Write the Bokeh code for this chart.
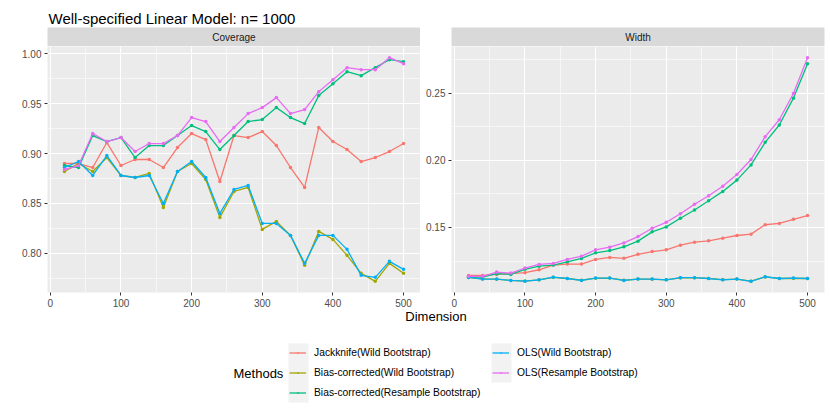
from bokeh.plotting import figure
from bokeh.layouts import column, row
from bokeh.models import (Range1d, SingleIntervalTicker, NumeralTickFormatter, Label,
                          Legend, LegendItem, ColumnDataSource, BoxAnnotation)
from bokeh.embed import file_html
from bokeh.resources import INLINE

# ---------------- data ----------------
dims = [20, 40, 60, 80, 100, 120, 140, 160, 180, 200, 220, 240, 260,
        280, 300, 320, 340, 360, 380, 400, 420, 440, 460, 480, 500]

methods = ["Jackknife(Wild Bootstrap)", "Bias-corrected(Wild Bootstrap)",
           "Bias-corrected(Resample Bootstrap)", "OLS(Wild Bootstrap)",
           "OLS(Resample Bootstrap)"]
colors = ["#F8766D", "#A3A500", "#00BF7D", "#00B0F6", "#E76BF3"]

coverage_jack = [0.890, 0.890, 0.886, 0.911, 0.888, 0.894, 0.894, 0.886, 0.906, 0.920, 0.914, 0.872, 0.918,
                 0.916, 0.922, 0.908, 0.886, 0.866, 0.926, 0.912, 0.904, 0.892, 0.896, 0.902, 0.910]
coverage_bcw = [0.882, 0.890, 0.882, 0.896, 0.878, 0.876, 0.880, 0.846, 0.882, 0.890, 0.874, 0.836, 0.862,
                0.866, 0.824, 0.832, 0.818, 0.788, 0.822, 0.814, 0.798, 0.780, 0.772, 0.790, 0.780]
coverage_bcr = [0.888, 0.886, 0.918, 0.912, 0.916, 0.896, 0.908, 0.908, 0.918, 0.928, 0.922, 0.904, 0.918,
                0.932, 0.934, 0.946, 0.936, 0.930, 0.958, 0.970, 0.982, 0.978, 0.986, 0.994, 0.992]
coverage_olsw = [0.886, 0.892, 0.878, 0.898, 0.878, 0.876, 0.878, 0.850, 0.882, 0.892, 0.876, 0.840, 0.864,
                 0.868, 0.830, 0.830, 0.818, 0.790, 0.818, 0.818, 0.804, 0.778, 0.776, 0.792, 0.784]
coverage_olsr = [0.884, 0.888, 0.920, 0.912, 0.916, 0.902, 0.910, 0.910, 0.918, 0.936, 0.932, 0.912, 0.926,
                 0.940, 0.946, 0.956, 0.940, 0.944, 0.962, 0.974, 0.986, 0.984, 0.984, 0.996, 0.990]

width_jack = [0.1143, 0.1143, 0.1150, 0.1156, 0.1163, 0.1185, 0.1220, 0.1227, 0.1227, 0.1262, 0.1277, 0.1270, 0.1300,
              0.1320, 0.1333, 0.1368, 0.1390, 0.1400, 0.1420, 0.1440, 0.1450, 0.1520, 0.1530, 0.1560, 0.1588]
width_bcw = [0.1128, 0.1117, 0.1115, 0.1106, 0.1101, 0.1110, 0.1129, 0.1120, 0.1107, 0.1122, 0.1123, 0.1107, 0.1116,
             0.1115, 0.1110, 0.1125, 0.1126, 0.1120, 0.1111, 0.1116, 0.1100, 0.1132, 0.1120, 0.1122, 0.1120]
width_bcr = [0.1131, 0.1131, 0.1156, 0.1150, 0.1188, 0.1212, 0.1220, 0.1244, 0.1269, 0.1311, 0.1328, 0.1356, 0.1398,
             0.1467, 0.1504, 0.1568, 0.1630, 0.1699, 0.1768, 0.1852, 0.1965, 0.2133, 0.2262, 0.2462, 0.2718]
width_olsw = [0.1128, 0.1116, 0.1116, 0.1106, 0.1100, 0.1110, 0.1130, 0.1120, 0.1106, 0.1123, 0.1123, 0.1106, 0.1116,
              0.1116, 0.1110, 0.1126, 0.1126, 0.1120, 0.1110, 0.1116, 0.1099, 0.1133, 0.1120, 0.1123, 0.1120]
width_olsr = [0.1136, 0.1136, 0.1168, 0.1160, 0.1198, 0.1225, 0.1232, 0.1262, 0.1286, 0.1333, 0.1353, 0.1385, 0.1432,
              0.1494, 0.1538, 0.1602, 0.1672, 0.1736, 0.1807, 0.1894, 0.2005, 0.2175, 0.2301, 0.2496, 0.2763]

coverage_series = [coverage_jack, coverage_bcw, coverage_bcr, coverage_olsw, coverage_olsr]
width_series = [width_jack, width_bcw, width_bcr, width_olsw, width_olsr]

title_text = "Well-specified Linear Model: n= 1000"
panel_titles = ["Coverage", "Width"]
x_label = "Dimension"
legend_title = "Methods"

# ---------------- styling ----------------
FONT = "Liberation Sans"
PANEL_BG = "#EBEBEB"
STRIP_BG = "#D9D9D9"
KEY_BG = "#F2F2F2"

LEFT_W, LEFT_B = 420, 47
RIGHT_W, RIGHT_B, RIGHT_R = 409, 31, 5
TOTAL_W = LEFT_W + RIGHT_W


def expand(vals, frac=0.05):
    lo, hi = min(vals), max(vals)
    d = (hi - lo) * frac
    return lo - d, hi + d


x_lo, x_hi = expand(dims)


def make_panel(series, width, border_left, border_right):
    allv = [v for s in series for v in s]
    y_lo, y_hi = expand(allv)
    p = figure(width=width, height=264, output_backend="svg", toolbar_location=None,
               x_range=Range1d(x_lo, x_hi), y_range=Range1d(y_lo, y_hi),
               min_border_left=border_left, min_border_right=border_right,
               min_border_top=0, min_border_bottom=18,
               background_fill_color=PANEL_BG, border_fill_color="white",
               outline_line_color=None)
    p.xaxis.ticker = SingleIntervalTicker(interval=100, num_minor_ticks=2)
    p.yaxis.ticker = SingleIntervalTicker(interval=0.05, num_minor_ticks=2)
    p.yaxis.formatter = NumeralTickFormatter(format="0.00")
    for ax in (p.xaxis, p.yaxis):
        ax.axis_line_color = None
        ax.major_tick_line_color = "#333333"
        ax.major_tick_line_width = 1
        ax.major_tick_out = 3
        ax.major_tick_in = 0
        ax.minor_tick_line_color = None
        ax.major_label_text_font = FONT
        ax.major_label_text_font_size = "10px"
        ax.major_label_text_color = "#4D4D4D"
        ax.major_label_standoff = 2
    for g in (p.xgrid, p.ygrid):
        g.grid_line_color = "white"
        g.grid_line_width = 1.1
        g.minor_grid_line_color = "white"
        g.minor_grid_line_width = 0.55
    for vals, col in zip(series, colors):
        src = ColumnDataSource(data=dict(x=dims, y=vals))
        p.line("x", "y", source=src, line_color=col, line_width=1.3)
        p.scatter("x", "y", source=src, marker="circle", size=3.5,
                  fill_color=col, line_color=col, line_width=0)
    return p


def make_strip(panel, width, border_left, border_right, text):
    s = figure(width=width, height=19, output_backend="svg", toolbar_location=None,
               x_range=panel.x_range, y_range=Range1d(0, 1),
               x_axis_location=None, y_axis_location=None,
               min_border_left=border_left, min_border_right=border_right,
               min_border_top=0, min_border_bottom=0,
               background_fill_color=STRIP_BG, border_fill_color="white",
               outline_line_color=None)
    s.xgrid.visible = False
    s.ygrid.visible = False
    s.add_layout(Label(x=(x_lo + x_hi) / 2, y=0.5, text=text, text_align="center",
                       text_baseline="middle", text_font=FONT, text_font_size="10px",
                       text_color="#1A1A1A"))
    return s


p_cov = make_panel(coverage_series, LEFT_W, LEFT_B, 0)
p_wid = make_panel(width_series, RIGHT_W, RIGHT_B, RIGHT_R)
s_cov = make_strip(p_cov, LEFT_W, LEFT_B, 0, panel_titles[0])
s_wid = make_strip(p_wid, RIGHT_W, RIGHT_B, RIGHT_R, panel_titles[1])


def blank(height):
    b = figure(width=TOTAL_W, height=height, output_backend="svg", toolbar_location=None,
               x_range=Range1d(0, TOTAL_W), y_range=Range1d(0, height),
               x_axis_location=None, y_axis_location=None,
               min_border=0, background_fill_color="white", border_fill_color="white",
               outline_line_color=None)
    b.xgrid.visible = False
    b.ygrid.visible = False
    return b


# title
T_H = 27
t_fig = blank(T_H)
t_fig.add_layout(Label(x=48, y=T_H - 17.5, text=title_text, text_align="left", text_baseline="alphabetic",
                       text_font=FONT, text_font_size="15px", text_color="black"))

# bottom: axis title + legend
LEG_H = 103
l_fig = blank(LEG_H)
l_fig.add_layout(Label(x=435.5, y=LEG_H - 6, text=x_label, text_align="center", text_baseline="middle",
                       text_font=FONT, text_font_size="13px", text_color="black"))
l_fig.add_layout(Label(x=233, y=LEG_H - 62.7, text=legend_title, text_align="left", text_baseline="middle",
                       text_font=FONT, text_font_size="13px", text_color="black"))

# key backgrounds (ggplot legend.key)
l_fig.add_layout(BoxAnnotation(left=288, right=308, top=LEG_H - 33, bottom=LEG_H - 92,
                               fill_color=KEY_BG, fill_alpha=1, line_color=None, level="underlay"))
l_fig.add_layout(BoxAnnotation(left=491, right=511, top=LEG_H - 33, bottom=LEG_H - 72,
                               fill_color=KEY_BG, fill_alpha=1, line_color=None, level="underlay"))

items = []
for name, col, vals in zip(methods, colors, coverage_series):
    src = ColumnDataSource(data=dict(x=dims, y=vals))
    r1 = l_fig.line("x", "y", source=src, line_color=col, line_width=1.3, visible=False)
    r2 = l_fig.scatter("x", "y", source=src, marker="dot", size=3.5,
                       fill_color=col, line_color=col, line_width=1.5, visible=False)
    items.append(LegendItem(label=name, renderers=[r1, r2]))


def make_legend(its, loc):
    return Legend(items=its, location=loc, orientation="vertical", padding=0, margin=0,
                  spacing=3, glyph_width=17, glyph_height=17, label_height=17,
                  label_standoff=8, label_text_font=FONT, label_text_font_size="10.3px",
                  label_text_color="black", border_line_color=None, background_fill_alpha=0,
                  inactive_fill_alpha=0)


l_fig.add_layout(make_legend(items[:3], (289, LEG_H - 34 - 57)))
l_fig.add_layout(make_legend(items[3:], (492, LEG_H - 34 - 37)))

layout = column(t_fig, row(s_cov, s_wid), row(p_cov, p_wid), l_fig)

open("out.html", "w").write(file_html(layout, INLINE))
